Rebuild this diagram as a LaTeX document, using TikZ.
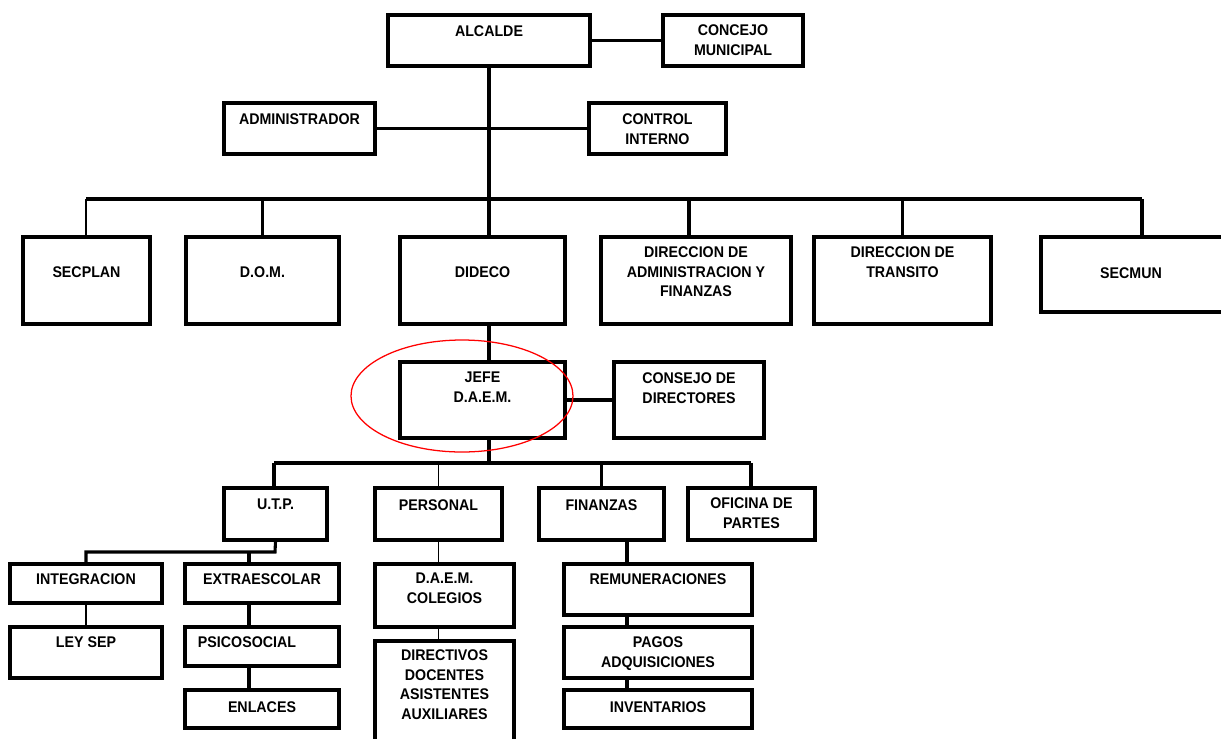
\documentclass[tikz,border=0pt]{standalone}
\usepackage{fontspec}
\setmainfont{Liberation Sans}[FakeStretch=0.92]
\usepackage{tikz}
\usetikzlibrary{positioning,calc,fit}

\tikzset{
  box/.style={draw, rectangle, line width=2.2pt, inner sep=0pt},
  txt/.style={font=\fontsize{11}{14.2}\selectfont\bfseries, align=center, inner sep=0pt, anchor=north},
  conn/.style={line width=2.2pt},
  thinline/.style={line width=1.2pt},
}

\begin{document}
\begin{tikzpicture}[x=0.025cm, y=-0.025cm]
  \useasboundingbox (0,0) rectangle (1221,738);
  \clip (0,0) rectangle (1221,738);
  % top
  \node[box, fit={(388,15) (590,66)}] (alcalde) {};
  \node[txt] (alcalde-t) at ($(alcalde.north)+(0,11.5)$) {ALCALDE};
  \node[box, fit={(663,15) (803,66)}] (concejo) {};
  \node[txt] (concejo-t) at ($(concejo.north)+(0,10.5)$) {CONCEJO\\MUNICIPAL};
  \node[box, fit={(224,103) (375,154)}] (admin) {};
  \node[txt] (admin-t) at ($(admin.north)+(0,11.5)$) {ADMINISTRADOR};
  \node[box, fit={(589,103) (726,154)}] (control) {};
  \node[txt] (control-t) at ($(control.north)+(0,11.5)$) {CONTROL\\INTERNO};
  % direcciones
  \node[box, fit={(23,237) (150,324)}] (secplan) {};
  \node[txt] (secplan-t) at ($(secplan.north)+(0,30.5)$) {SECPLAN};
  \node[box, fit={(186,237) (339,324)}] (dom) {};
  \node[txt] (dom-t) at ($(dom.north)+(0,30.5)$) {D.O.M.};
  \node[box, fit={(400,237) (565,324)}] (dideco) {};
  \node[txt] (dideco-t) at ($(dideco.north)+(0,30.5)$) {DIDECO};
  \node[box, fit={(601,237) (791,324)}] (dirafin) {};
  \node[txt] (dirafin-t) at ($(dirafin.north)+(0,10.5)$) {DIRECCION DE\\ADMINISTRACION Y\\FINANZAS};
  \node[box, fit={(814,237) (991,324)}] (transito) {};
  \node[txt] (transito-t) at ($(transito.north)+(0,10.5)$) {DIRECCION DE\\TRANSITO};
  \node[box, fit={(1041,237) (1240,312)}] (secmun) {};
  \node[txt] (secmun-t) at (1131,267.5) {SECMUN};
  % daem
  \node[box, fit={(400,362) (565,438)}] (jefe) {};
  \node[txt] (jefe-t) at ($(jefe.north)+(0,11.5)$) {JEFE\\D.A.E.M.};
  \node[box, fit={(614,362) (764,438)}] (consejo) {};
  \node[txt] (consejo-t) at ($(consejo.north)+(0,11.5)$) {CONSEJO DE\\DIRECTORES};
  \node[box, fit={(224,488) (327,540)}] (utp) {};
  \node[txt] (utp-t) at ($(utp.north)+(0,12.5)$) {U.T.P.};
  \node[box, fit={(375,488) (502,540)}] (personal) {};
  \node[txt] (personal-t) at ($(personal.north)+(0,12.5)$) {PERSONAL};
  \node[box, fit={(539,488) (664,540)}] (finanzas) {};
  \node[txt] (finanzas-t) at ($(finanzas.north)+(0,12.5)$) {FINANZAS};
  \node[box, fit={(688,488) (815,540)}] (oficina) {};
  \node[txt] (oficina-t) at ($(oficina.north)+(0,10.5)$) {OFICINA DE\\PARTES};
  % secciones
  \node[box, fit={(10,564) (162,603)}] (integ) {};
  \node[txt] (integ-t) at ($(integ.north)+(0,10.5)$) {INTEGRACION};
  \node[box, fit={(10,627) (162,678)}] (leysep) {};
  \node[txt] (leysep-t) at ($(leysep.north)+(0,10.5)$) {LEY SEP};
  \node[box, fit={(185,564) (339,603)}] (extra) {};
  \node[txt] (extra-t) at ($(extra.north)+(0,10.5)$) {EXTRAESCOLAR};
  \node[box, fit={(185,627) (339,666)}] (psico) {};
  \node[txt] (psico-t) at ($(psico.north)+(-15,10.5)$) {PSICOSOCIAL};
  \node[box, fit={(185,690) (339,728)}] (enlaces) {};
  \node[txt] (enlaces-t) at ($(enlaces.north)+(0,12.5)$) {ENLACES};
  \node[box, fit={(375,564) (514,627)}] (colegios) {};
  \node[txt] (colegios-t) at ($(colegios.north)+(0,10.5)$) {D.A.E.M.\\COLEGIOS};
  \node[box, fit={(375,641) (514,760)}] (directivos) {};
  \node[txt] (directivos-t) at ($(directivos.north)+(0,9.5)$) {DIRECTIVOS\\DOCENTES\\ASISTENTES\\AUXILIARES};
  \node[box, fit={(564,564) (752,615)}] (remun) {};
  \node[txt] (remun-t) at ($(remun.north)+(0,10.5)$) {REMUNERACIONES};
  \node[box, fit={(564,627) (752,678)}] (pagos) {};
  \node[txt] (pagos-t) at ($(pagos.north)+(0,10.5)$) {PAGOS\\ADQUISICIONES};
  \node[box, fit={(564,690) (752,728)}] (invent) {};
  \node[txt] (invent-t) at ($(invent.north)+(0,12.5)$) {INVENTARIOS};
  % lines
  \coordinate (bus1-l) at (86,199);
  \coordinate (bus1-r) at (1142,199);
  \coordinate (bus1-a) at (689,199);
  \coordinate (bus2-l) at (274,463);
  \coordinate (bus2-m) at (489,463);
  \coordinate (bus2-r) at (751,463);
  \coordinate (bus3-l) at (86,552);
  \coordinate (bus3-r) at (275,552);
  \coordinate (bus3-e) at (249,552);
  \coordinate (fin-l) at (627,540);
  \draw[conn] (alcalde.east) -- (concejo.west);
  \draw[conn] (alcalde.south) -- (alcalde.south |- dideco.north);
  \draw[conn] (admin.east) -- (control.west);
  \draw[conn] (bus1-l) -- (bus1-r);
  \draw[thinline] (bus1-l) -- (bus1-l |- secplan.north);
  \draw[conn] (dom.north |- bus1-l) -- (dom.north);
  \draw[conn] (bus1-a) -- (bus1-a |- dirafin.north);
  \draw[conn] (transito.north |- bus1-l) -- (transito.north);
  \draw[conn] (bus1-r) -- (bus1-r |- secmun.north);
  \draw[conn] (bus2-m |- dideco.south) -- (bus2-m |- jefe.north);
  \draw[conn] (bus2-m |- jefe.south) -- (bus2-m);
  \draw[conn] (jefe.east) -- (consejo.west);
  \draw[conn] (bus2-l) -- (bus2-r);
  \draw[conn] (bus2-l) -- (bus2-l |- utp.north);
  \draw[thinline] (personal.north |- bus2-l) -- (personal.north);
  \draw[conn] (finanzas.north |- bus2-l) -- (finanzas.north);
  \draw[conn] (bus2-r) -- (bus2-r |- oficina.north);
  \draw[conn] (utp.south) -- (bus3-r) -- (bus3-l) -- (bus3-l |- integ.north);
  \draw[conn] (bus3-e) -- (bus3-e |- extra.north);
  \draw[thinline] (integ.south) -- (leysep.north);
  \draw[conn] (bus3-e |- extra.south) -- (bus3-e |- psico.north);
  \draw[conn] (bus3-e |- psico.south) -- (bus3-e |- enlaces.north);
  \draw[thinline] (personal.south) -- (personal.south |- colegios.north);
  \draw[thinline] (personal.south |- colegios.south) -- (personal.south |- directivos.north);
  \draw[conn] (fin-l) -- (fin-l |- remun.north);
  \draw[conn] (fin-l |- remun.south) -- (fin-l |- pagos.north);
  \draw[conn] (fin-l |- pagos.south) -- (fin-l |- invent.north);
  % mark
  \draw[red, line width=0.9pt] (462,396) ellipse [x radius=111, y radius=56];
\end{tikzpicture}
\end{document}
